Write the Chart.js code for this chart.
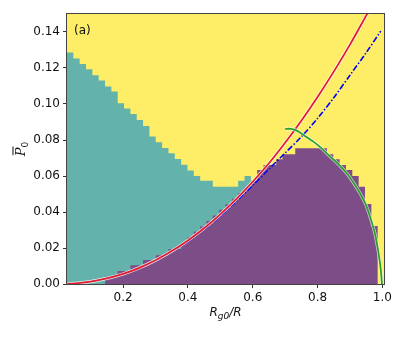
<!DOCTYPE html>
<html>
<head>
<meta charset="utf-8">
<script src="https://cdn.jsdelivr.net/npm/chart.js@4.4.0/dist/chart.umd.min.js"></script>
<style>
    html, body { margin: 0; padding: 0; background: #fff; }
</style>
</head>
<body>
<canvas id="phase_chart" width="407" height="339"></canvas>
<script>
/** Grid columns (cell edges along Rg0/R) **/
const x_edges = [0.0270, 0.0466, 0.0661, 0.0857, 0.1052, 0.1248, 0.1444, 0.1639, 0.1835, 0.2030,
    0.2226, 0.2422, 0.2617, 0.2813, 0.3008, 0.3204, 0.3400, 0.3595, 0.3791, 0.3986,
    0.4182, 0.4378, 0.4573, 0.4769, 0.4964, 0.5160, 0.5356, 0.5551, 0.5747, 0.5942,
    0.6138, 0.6334, 0.6529, 0.6725, 0.6920, 0.7116, 0.7312, 0.7507, 0.7703, 0.7898,
    0.8094, 0.8290, 0.8485, 0.8681, 0.8876, 0.9072, 0.9268, 0.9463, 0.9659, 0.9854, 1.0050]

/** Upper edge of each region per column **/
const teal_top = [0.1286, 0.1253, 0.1222, 0.1193, 0.1160, 0.1130, 0.1097, 0.1069, 0.1004, 0.0975,
    0.0945, 0.0911, 0.0878, 0.0819, 0.0787, 0.0756, 0.0726, 0.0695, 0.0663, 0.0630,
    0.0600, 0.0573, 0.0573, 0.0540, 0.0540, 0.0540, 0.0540, 0.0573, 0.0600, 0,
    0, 0, 0, 0, 0, 0, 0, 0, 0, 0,
    0, 0, 0, 0, 0, 0, 0, 0, 0, 0]

const purple_top = [0, 0, 0, 0, 0, 0, 0.0041, 0.0041, 0.0072, 0.0072,
    0.0104, 0.0104, 0.0133, 0.0133, 0.0160, 0.0160, 0.0195, 0.0195, 0.0228, 0.0260,
    0.0290, 0.0320, 0.0350, 0.0381, 0.0412, 0.0443, 0.0474, 0.0505, 0.0536, 0.0573,
    0.0634, 0.0661, 0.0661, 0.0693, 0.0721, 0.0721, 0.0754, 0.0754, 0.0754, 0.0754,
    0.0754, 0.0721, 0.0693, 0.0661, 0.0634, 0.0600, 0.0540, 0.0445, 0.0322, 0]

/** Curves **/
const red_x = [0.03, 0.05, 0.1, 0.15, 0.2, 0.25, 0.3, 0.35, 0.4, 0.45, 0.5, 0.55, 0.6, 0.65, 0.7, 0.75, 0.8, 0.85, 0.9, 0.95, 0.96]
const red_y = [0.0001, 0.0003, 0.0013, 0.0031, 0.0056, 0.0090, 0.0132, 0.0183, 0.0242, 0.0310, 0.0387, 0.0473, 0.0568, 0.0671, 0.0785, 0.0907, 0.1039, 0.1180, 0.1330, 0.1491, 0.1524]

const blue_x = [0.03, 0.1, 0.2, 0.3, 0.4, 0.45, 0.5, 0.55, 0.6, 0.65, 0.7, 0.75, 0.8, 0.85, 0.9, 0.95, 0.995]
const blue_y = [0.0001, 0.0013, 0.0055, 0.0129, 0.0236, 0.0303, 0.0378, 0.0460, 0.0548, 0.0638, 0.0728, 0.0818, 0.0920, 0.1035, 0.1160, 0.1285, 0.1405]

const green_x = [0.700, 0.718, 0.736, 0.760, 0.787, 0.810, 0.839, 0.865, 0.890, 0.910, 0.931, 0.948, 0.962, 0.975, 0.983, 0.990, 0.994, 0.997, 0.999]
const green_y = [0.0862, 0.0862, 0.0852, 0.0824, 0.0791, 0.0758, 0.0708, 0.0665, 0.0615, 0.0565, 0.0504, 0.0445, 0.0374, 0.0295, 0.0226, 0.0150, 0.0096, 0.0040, 0.0000]

const x_ticks = [0.2, 0.4, 0.6, 0.8, 1.0]
const y_ticks = [0.00, 0.02, 0.04, 0.06, 0.08, 0.10, 0.12, 0.14]

const yellow = 'rgb(254, 237, 102)'

function steps(tops) {
    var pts = []
    for (var i = 0; i < tops.length; i++) {
        pts.push({x: x_edges[i], y: tops[i]})
    }
    pts.push({x: x_edges[x_edges.length - 1], y: tops[tops.length - 1]})
    return pts
}

function pairs(xs, ys) {
    return xs.map(function (v, i) { return {x: v, y: ys[i]} })
}

/** Background, frame and labels **/
const frame_plugin = {
    id: 'frame',
    beforeDatasetsDraw(chart) {
        const a = chart.chartArea, ctx = chart.ctx
        ctx.save()
        ctx.fillStyle = yellow
        ctx.fillRect(a.left, a.top, a.right - a.left, a.bottom - a.top)
        ctx.restore()
    },
    afterDraw(chart) {
        const a = chart.chartArea, ctx = chart.ctx
        ctx.save()
        ctx.strokeStyle = '#444'
        ctx.lineWidth = 1
        ctx.strokeRect(a.left - 0.5, a.top - 0.5, a.right - a.left + 1, a.bottom - a.top + 1)

        ctx.fillStyle = '#111'
        ctx.textBaseline = 'alphabetic'
        ctx.font = '12px "DejaVu Sans"'
        ctx.fillText('(a)', a.left + 7, a.top + 20)

        // x label: R_g0/R
        const cx = (a.left + a.right) / 2, by = 316
        ctx.font = 'italic 12px "DejaVu Sans"'
        const w1 = ctx.measureText('R').width
        const w3 = ctx.measureText('/R').width
        ctx.font = 'italic 9px "DejaVu Sans"'
        const w2 = ctx.measureText('g0').width
        var sx = cx - (w1 + w2 + w3) / 2
        ctx.font = 'italic 12px "DejaVu Sans"'
        ctx.fillText('R', sx, by)
        ctx.font = 'italic 9px "DejaVu Sans"'
        ctx.fillText('g0', sx + w1, by + 3)
        ctx.font = 'italic 12px "DejaVu Sans"'
        ctx.fillText('/R', sx + w1 + w2, by)

        // y label: overlined P with subscript 0
        ctx.translate(25, (a.top + a.bottom) / 2)
        ctx.rotate(-Math.PI / 2)
        ctx.font = 'italic 13px "DejaVu Serif"'
        const wp = ctx.measureText('P').width
        ctx.font = '9px "DejaVu Sans"'
        const w0 = ctx.measureText('0').width
        const x0 = -(wp + w0) / 2
        ctx.font = 'italic 13px "DejaVu Serif"'
        ctx.fillText('P', x0, 0)
        ctx.font = '9px "DejaVu Sans"'
        ctx.fillText('0', x0 + wp, 3)
        ctx.fillRect(x0 + 1, -12.5, wp, 1)
        ctx.restore()
    }
}

var phase_chart = new Chart(
    document.getElementById('phase_chart').getContext('2d'),
    config = {
        type: 'line',
        data: {
            datasets: [{
                data: steps(teal_top),
                stepped: true,
                fill: 'origin',
                backgroundColor: 'rgb(100, 178, 172)',
                borderWidth: 0,
                order: 10,
            }, {
                data: steps(purple_top),
                stepped: true,
                fill: 'origin',
                backgroundColor: 'rgb(124, 77, 135)',
                borderWidth: 0,
                order: 9,
            }, {
                data: pairs(blue_x, blue_y),
                borderColor: 'rgb(0, 0, 255)',
                borderWidth: 1.6,
                borderDash: [6, 2, 1.5, 2],
                tension: 0.3,
                fill: false,
                order: 8,
            }, {
                data: pairs(red_x, red_y),
                borderColor: 'rgba(255, 255, 255, 0.85)',
                borderWidth: 3.2,
                tension: 0.3,
                fill: false,
                order: 7,
            }, {
                data: pairs(red_x, red_y),
                borderColor: 'rgb(225, 28, 48)',
                borderWidth: 1.8,
                tension: 0.3,
                fill: false,
                order: 6,
            }, {
                data: pairs(green_x, green_y),
                borderColor: 'rgba(255, 255, 255, 0.7)',
                borderWidth: 3.2,
                tension: 0.3,
                fill: false,
                order: 5,
            }, {
                data: pairs(green_x, green_y),
                borderColor: 'rgb(44, 160, 44)',
                borderWidth: 1.8,
                tension: 0.3,
                fill: false,
                order: 4,
            }]
        },
        options: {
            responsive: false,
            animation: false,
            layout: {
                padding: {top: 14, right: 23, bottom: 0, left: 0}
            },
            elements: {
                point: {radius: 0},
            },
            datasets: {
                line: {clip: 0}
            },
            plugins: {
                legend: {display: false},
                tooltip: {enabled: false},
            },
            scales: {
                x: {
                    type: 'linear',
                    min: 0.027,
                    max: 1.005,
                    afterBuildTicks: function (axis) {
                        axis.ticks = x_ticks.map(function (v) { return {value: v} })
                    },
                    afterFit: function (axis) { axis.height = 55 },
                    ticks: {
                        callback: function (v) { return v.toFixed(1) },
                        color: '#111',
                        font: {family: 'DejaVu Sans', size: 12},
                        padding: 3,
                        maxRotation: 0,
                    },
                    grid: {drawOnChartArea: false, drawTicks: true, tickLength: 4, color: '#333'},
                    border: {display: false},
                },
                y: {
                    type: 'linear',
                    min: 0,
                    max: 0.15,
                    afterBuildTicks: function (axis) {
                        axis.ticks = y_ticks.map(function (v) { return {value: v} })
                    },
                    afterFit: function (axis) { axis.width = 67 },
                    ticks: {
                        callback: function (v) { return v.toFixed(2) },
                        color: '#111',
                        font: {family: 'DejaVu Sans', size: 12},
                        padding: 3,
                    },
                    grid: {drawOnChartArea: false, drawTicks: true, tickLength: 4, color: '#333'},
                    border: {display: false},
                }
            },
        },
        plugins: [frame_plugin]
    }
);
</script>
</body>
</html>
